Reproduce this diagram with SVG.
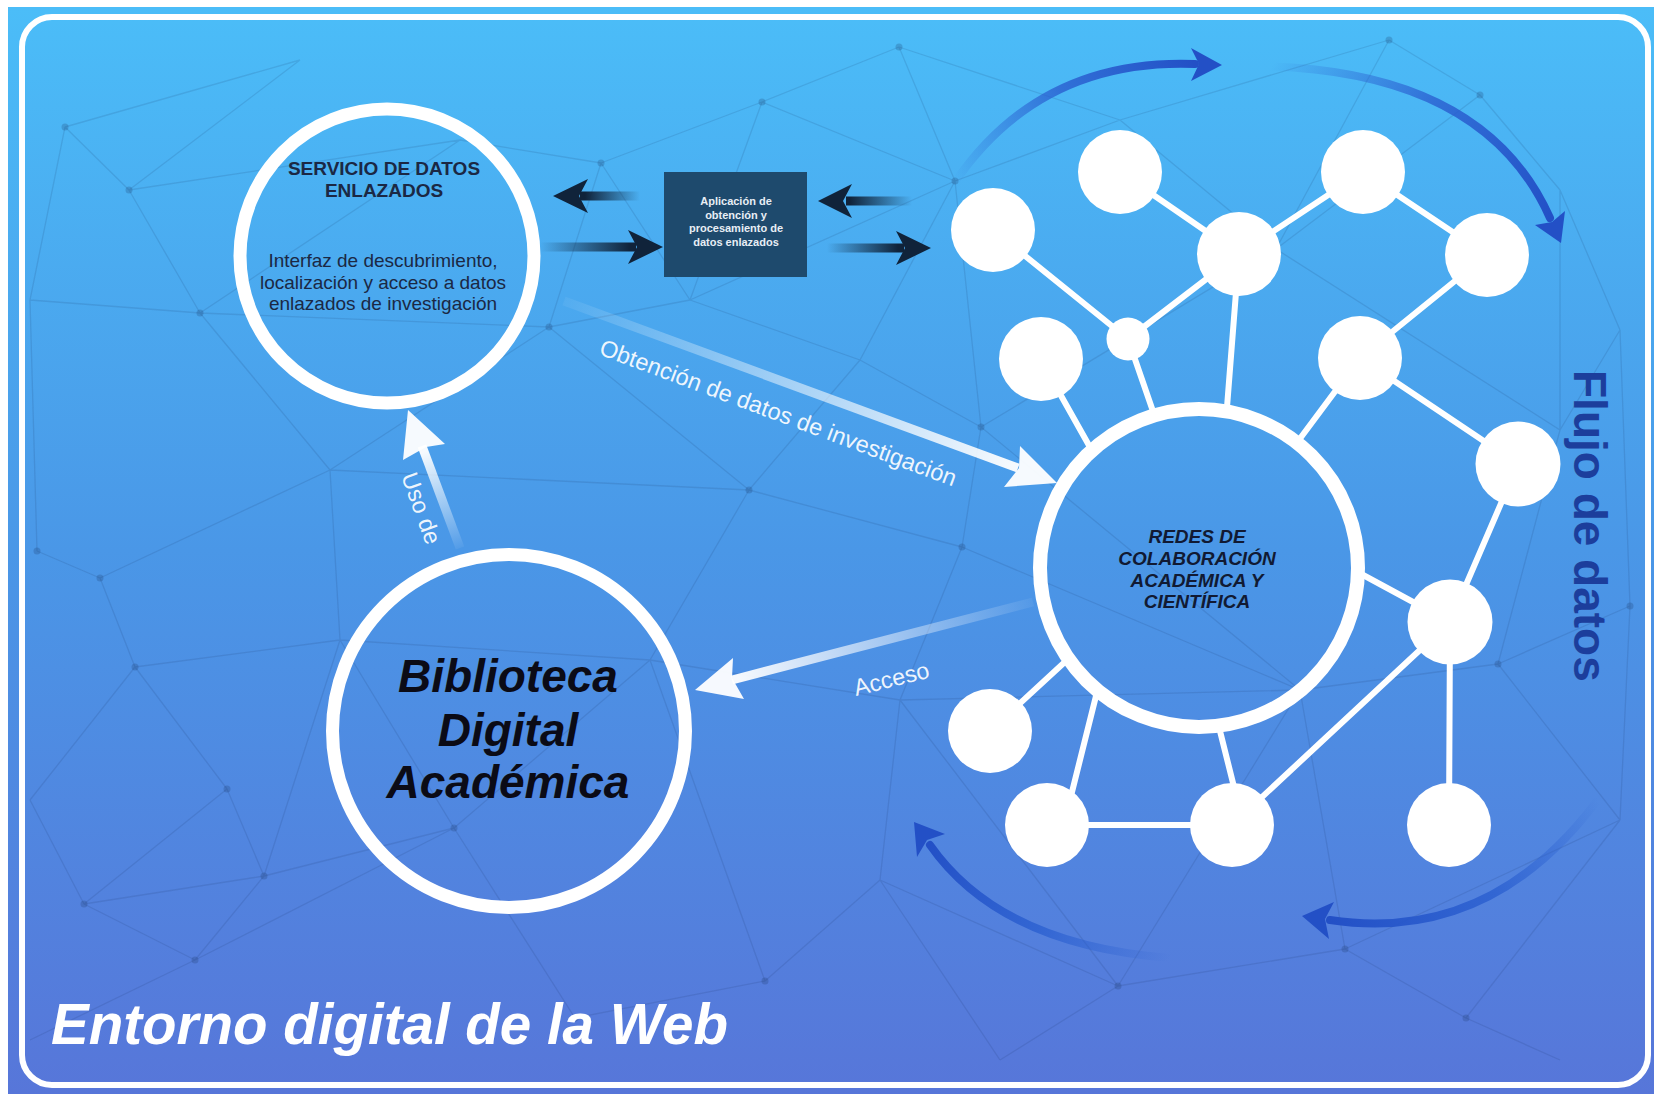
<svg xmlns="http://www.w3.org/2000/svg" width="1654" height="1094" viewBox="0 0 1654 1094">
<defs>
  <linearGradient id="bg" x1="0" y1="0" x2="0" y2="1">
    <stop offset="0" stop-color="#4bbdf8"/>
    <stop offset="0.5" stop-color="#4a97e7"/>
    <stop offset="1" stop-color="#5776d9"/>
  </linearGradient>
  <linearGradient id="gObt" gradientUnits="userSpaceOnUse" x1="564" y1="301" x2="1012" y2="466">
    <stop offset="0" stop-color="#fff" stop-opacity="0.05"/>
    <stop offset="1" stop-color="#fff" stop-opacity="0.95"/>
  </linearGradient>
  <linearGradient id="gAcc" gradientUnits="userSpaceOnUse" x1="1033" y1="602" x2="738" y2="679">
    <stop offset="0" stop-color="#fff" stop-opacity="0.05"/>
    <stop offset="1" stop-color="#fff" stop-opacity="0.95"/>
  </linearGradient>
  <linearGradient id="gUso" gradientUnits="userSpaceOnUse" x1="460" y1="548" x2="424" y2="452">
    <stop offset="0" stop-color="#fff" stop-opacity="0.05"/>
    <stop offset="1" stop-color="#fff" stop-opacity="0.95"/>
  </linearGradient>
  <linearGradient id="gD1" gradientUnits="userSpaceOnUse" x1="640" y1="0" x2="585" y2="0">
    <stop offset="0" stop-color="#10233a" stop-opacity="0"/>
    <stop offset="1" stop-color="#10233a"/>
  </linearGradient>
  <linearGradient id="gD2" gradientUnits="userSpaceOnUse" x1="540" y1="0" x2="630" y2="0">
    <stop offset="0" stop-color="#10233a" stop-opacity="0"/>
    <stop offset="1" stop-color="#10233a"/>
  </linearGradient>
  <linearGradient id="gD3" gradientUnits="userSpaceOnUse" x1="912" y1="0" x2="850" y2="0">
    <stop offset="0" stop-color="#10233a" stop-opacity="0"/>
    <stop offset="1" stop-color="#10233a"/>
  </linearGradient>
  <linearGradient id="gD4" gradientUnits="userSpaceOnUse" x1="827" y1="0" x2="898" y2="0">
    <stop offset="0" stop-color="#10233a" stop-opacity="0"/>
    <stop offset="1" stop-color="#10233a"/>
  </linearGradient>
  <linearGradient id="gC1" gradientUnits="userSpaceOnUse" x1="955" y1="182" x2="1195" y2="64">
    <stop offset="0" stop-color="#2a5fd0" stop-opacity="0"/>
    <stop offset="0.5" stop-color="#2a5fd0" stop-opacity="0.8"/>
    <stop offset="1" stop-color="#2350c6"/>
  </linearGradient>
  <linearGradient id="gC2" gradientUnits="userSpaceOnUse" x1="1272" y1="66" x2="1550" y2="218">
    <stop offset="0" stop-color="#2a5fd0" stop-opacity="0"/>
    <stop offset="0.5" stop-color="#2a5fd0" stop-opacity="0.8"/>
    <stop offset="1" stop-color="#2350c6"/>
  </linearGradient>
  <linearGradient id="gC3" gradientUnits="userSpaceOnUse" x1="1170" y1="958" x2="930" y2="845">
    <stop offset="0" stop-color="#2a5fd0" stop-opacity="0"/>
    <stop offset="0.5" stop-color="#2a5fd0" stop-opacity="0.8"/>
    <stop offset="1" stop-color="#2350c6"/>
  </linearGradient>
  <linearGradient id="gC4" gradientUnits="userSpaceOnUse" x1="1598" y1="800" x2="1330" y2="920">
    <stop offset="0" stop-color="#2a5fd0" stop-opacity="0"/>
    <stop offset="0.45" stop-color="#2a5fd0" stop-opacity="0.8"/>
    <stop offset="1" stop-color="#2350c6"/>
  </linearGradient>
  <mask id="ringMask">
    <rect width="1654" height="1094" fill="#fff"/>
    <circle cx="1199" cy="568" r="153" fill="#000"/>
  </mask>
</defs>
<style>
  .sans{font-family:"Liberation Sans",Arial,sans-serif}
  .ring{fill:none;stroke:#fff}
  .node{fill:#fff}
  .edge{stroke:#fff;stroke-width:6;stroke-linecap:round}
  .mesh{stroke:#17325f;stroke-opacity:.13;stroke-width:1.3;fill:none}
  .dot{fill:#17325f;fill-opacity:.22}
  .dark{fill:#10233a}
  .curve{fill:none;stroke-width:8;stroke-linecap:round}
  .wlab{fill:#fff;fill-opacity:.92;font-size:23.5px}
</style>

<rect width="1654" height="1094" fill="#fff"/>
<rect x="8" y="7" width="1646" height="1087" fill="url(#bg)"/>

<g id="background-mesh">
  <path class="mesh" d="M65 127L129 190M65 127L300 60M65 127L30 300M129 190L200 313M129 190L300 60M129 190L460 140M200 313L30 300M200 313L330 470M200 313L549 327M200 313L460 140M37 551L100 578M37 551L30 300M100 578L135 667M100 578L330 470M135 667L340 640M135 667L227 789M135 667L30 800M227 789L264 876M227 789L84 904M84 904L264 876M84 904L30 800M84 904L195 960M264 876L195 960M264 876L454 828M264 876L340 640M601 163L762 102M601 163L460 140M601 163L549 327M601 163L690 300M762 102L899 47M762 102L690 300M762 102L955 181M899 47L955 181M899 47L1120 120M955 181L1120 120M955 181L860 360M955 181L981 427M955 181L690 300M1389 40L1480 95M1389 40L1120 120M1389 40L1276 249M1480 95L1560 190M1480 95L1276 249M1276 249L1120 120M1276 249L981 427M1276 249L1560 430M549 327L690 300M549 327L330 470M549 327L749 490M981 427L860 360M981 427L962 547M981 427L1300 690M962 547L749 490M962 547L900 700M962 547L1300 690M749 490L860 360M749 490L650 660M749 490L330 470M454 828L340 640M454 828L650 660M454 828L575 1018M575 1018L765 981M765 981L880 880M765 981L650 660M1118 986L880 880M1118 986L1000 1060M1118 986L1345 949M1118 986L900 700M1345 949L1466 1018M1345 949L1300 690M1345 949L1620 820M1466 1018L1560 1060M1466 1018L1620 820M1498 664L1630 606M1498 664L1300 690M1498 664L1560 430M1498 664L1620 820M1630 606L1620 330M1630 606L1620 820M1620 330L1560 190M1620 330L1560 430M1560 430L1560 190M900 700L650 660M900 700L880 880M900 700L1300 690M330 470L340 640M340 640L650 660M690 300L860 360M195 960L30 1040M454 828L195 960M880 880L1000 1060M1300 690L1118 986"/>
  <g class="dot">
    <circle cx="65" cy="127" r="3.5"/><circle cx="129" cy="190" r="3.5"/><circle cx="200" cy="313" r="3.5"/>
    <circle cx="37" cy="551" r="3.5"/><circle cx="100" cy="578" r="3.5"/><circle cx="135" cy="667" r="3.5"/>
    <circle cx="227" cy="789" r="3.5"/><circle cx="84" cy="904" r="3.5"/><circle cx="264" cy="876" r="3.5"/>
    <circle cx="195" cy="960" r="3.5"/><circle cx="601" cy="163" r="3.5"/><circle cx="762" cy="102" r="3.5"/>
    <circle cx="899" cy="47" r="3.5"/><circle cx="955" cy="181" r="3.5"/><circle cx="1389" cy="40" r="3.5"/>
    <circle cx="1480" cy="95" r="3.5"/><circle cx="1276" cy="249" r="3.5"/><circle cx="549" cy="327" r="3.5"/>
    <circle cx="981" cy="427" r="3.5"/><circle cx="962" cy="547" r="3.5"/><circle cx="749" cy="490" r="3.5"/>
    <circle cx="454" cy="828" r="3.5"/><circle cx="575" cy="1018" r="3.5"/><circle cx="765" cy="981" r="3.5"/>
    <circle cx="1118" cy="986" r="3.5"/><circle cx="1345" cy="949" r="3.5"/><circle cx="1466" cy="1018" r="3.5"/>
    <circle cx="1498" cy="664" r="3.5"/><circle cx="1630" cy="606" r="3.5"/>
  </g>
</g>

<rect id="frame" x="22" y="17" width="1626" height="1068" rx="30" fill="none" stroke="#fff" stroke-width="6"/>

<g id="connectors">
  <g id="dark-arrows">
    <line x1="640" y1="196" x2="580" y2="196" stroke="url(#gD1)" stroke-width="9"/>
    <polygon class="dark" points="553,196 588,179 579,196 588,213"/>
    <line x1="540" y1="247" x2="636" y2="247" stroke="url(#gD2)" stroke-width="9"/>
    <polygon class="dark" points="663,247 628,230 637,247 628,264"/>
    <line x1="912" y1="201" x2="846" y2="201" stroke="url(#gD3)" stroke-width="9"/>
    <polygon class="dark" points="818,201 852,184 843,201 852,218"/>
    <line x1="827" y1="248" x2="904" y2="248" stroke="url(#gD4)" stroke-width="9"/>
    <polygon class="dark" points="931,248 896,231 905,248 896,265"/>
  </g>
  <g id="arrow-obtencion">
    <line x1="564" y1="301" x2="1018" y2="468" stroke="url(#gObt)" stroke-width="9"/>
    <polygon fill="#fff" fill-opacity="0.95" points="1057,483 1004,487 1019,468 1020,446"/>
  </g>
  <g id="arrow-acceso">
    <line x1="1033" y1="602" x2="732" y2="680" stroke="url(#gAcc)" stroke-width="9"/>
    <polygon fill="#fff" fill-opacity="0.95" points="695,690 744,699 732,678 733,658"/>
  </g>
  <g id="arrow-uso">
    <line x1="460" y1="548" x2="422" y2="446" stroke="url(#gUso)" stroke-width="9"/>
    <polygon fill="#fff" fill-opacity="0.95" points="408,410 445,444 426,447 403,460"/>
  </g>
  <g id="flow-arrows">
    <path class="curve" stroke="url(#gC1)" d="M955 182Q1040 58 1195 64"/>
    <polygon fill="#2350c6" points="1222,65 1191,48 1199,64 1191,81"/>
    <path class="curve" stroke="url(#gC2)" d="M1265 66Q1485 72 1550 218"/>
    <polygon fill="#2350c6" points="1561,243 1565,211 1552,222 1535,225"/>
    <path class="curve" stroke="url(#gC3)" d="M1170 958Q1000 945 930 845"/>
    <polygon fill="#2350c6" points="914,822 945,834 927,840 917,857"/>
    <path class="curve" stroke="url(#gC4)" d="M1605 790Q1495 945 1330 920"/>
    <polygon fill="#2350c6" points="1302,916 1334,902 1325,919 1329,939"/>
  </g>
  <g id="network-edges" mask="url(#ringMask)">
    <line class="edge" x1="993" y1="230" x2="1128" y2="339"/>
    <line class="edge" x1="1120" y1="172" x2="1239" y2="254"/>
    <line class="edge" x1="1239" y1="254" x2="1128" y2="339"/>
    <line class="edge" x1="1239" y1="254" x2="1363" y2="172"/>
    <line class="edge" x1="1363" y1="172" x2="1487" y2="255"/>
    <line class="edge" x1="1487" y1="255" x2="1360" y2="358"/>
    <line class="edge" x1="1360" y1="358" x2="1518" y2="464"/>
    <line class="edge" x1="1518" y1="464" x2="1450" y2="622"/>
    <line class="edge" x1="1450" y1="622" x2="1449" y2="825"/>
    <line class="edge" x1="1232" y1="825" x2="1450" y2="622"/>
    <line class="edge" x1="1047" y1="825" x2="1232" y2="825"/>
    <line class="edge" x1="1239" y1="254" x2="1226" y2="420"/>
    <line class="edge" x1="1128" y1="339" x2="1156" y2="420"/>
    <line class="edge" x1="1041" y1="360" x2="1100" y2="465"/>
    <line class="edge" x1="1360" y1="358" x2="1290" y2="452"/>
    <line class="edge" x1="1352" y1="569" x2="1450" y2="622"/>
    <line class="edge" x1="990" y1="731" x2="1080" y2="648"/>
    <line class="edge" x1="1070" y1="800" x2="1100" y2="680"/>
    <line class="edge" x1="1216" y1="715" x2="1236" y2="795"/>
  </g>
</g>

<g id="network-nodes" class="node">
  <circle cx="993" cy="230" r="42"/>
  <circle cx="1120" cy="172" r="42"/>
  <circle cx="1239" cy="254" r="42"/>
  <circle cx="1363" cy="172" r="42"/>
  <circle cx="1487" cy="255" r="42"/>
  <circle cx="1041" cy="359" r="42"/>
  <circle cx="1128" cy="339" r="21.5"/>
  <circle cx="1360" cy="358" r="42"/>
  <circle cx="1518" cy="464" r="42.5"/>
  <circle cx="1450" cy="622" r="42.5"/>
  <circle cx="990" cy="731" r="42"/>
  <circle cx="1047" cy="825" r="42"/>
  <circle cx="1232" cy="825" r="42"/>
  <circle cx="1449" cy="825" r="42"/>
</g>

<g id="node-servicio">
  <circle class="ring" cx="387" cy="256" r="147" stroke-width="13"/>
  <g class="sans" font-size="19" fill="#1b2844" text-anchor="middle">
    <text x="384" y="175" font-weight="bold">SERVICIO DE DATOS</text>
    <text x="384" y="197" font-weight="bold">ENLAZADOS</text>
    <text x="383" y="267">Interfaz de descubrimiento,</text>
    <text x="383" y="288.5">localización y acceso a datos</text>
    <text x="383" y="310">enlazados de investigación</text>
  </g>
</g>

<g id="node-aplicacion">
  <rect x="664" y="172" width="143" height="105" fill="#1e4a6d"/>
  <g class="sans" font-size="11" font-weight="bold" fill="#e8eef5" text-anchor="middle">
    <text x="736" y="205">Aplicación de</text>
    <text x="736" y="218.5">obtención y</text>
    <text x="736" y="232">procesamiento de</text>
    <text x="736" y="245.5">datos enlazados</text>
  </g>
</g>

<g id="node-biblioteca">
  <circle class="ring" cx="509" cy="731" r="176.5" stroke-width="13"/>
  <g class="sans" font-size="46" font-weight="bold" font-style="italic" fill="#0b0b16" text-anchor="middle">
    <text x="508" y="692">Biblioteca</text>
    <text x="508" y="746">Digital</text>
    <text x="508" y="798">Académica</text>
  </g>
</g>

<g id="node-redes">
  <circle class="ring" cx="1199" cy="568" r="159" stroke-width="14"/>
  <g class="sans" font-size="19" font-weight="bold" font-style="italic" fill="#111a33" text-anchor="middle">
    <text x="1197" y="543">REDES DE</text>
    <text x="1197" y="565">COLABORACIÓN</text>
    <text x="1197" y="587">ACADÉMICA Y</text>
    <text x="1197" y="608">CIENTÍFICA</text>
  </g>
</g>

<g id="labels" class="sans">
  <text class="wlab" transform="translate(598,354) rotate(20.5)">Obtención de datos de investigación</text>
  <text class="wlab" transform="translate(856,696) rotate(-14)">Acceso</text>
  <text class="wlab" transform="translate(401,476) rotate(70)">Uso de</text>
  <text transform="translate(1574,370) rotate(90)" font-size="46" font-weight="bold" fill="#1c3e9c">Flujo de datos</text>
  <text x="51" y="1044" font-size="56.5" font-weight="bold" font-style="italic" fill="#fff">Entorno digital de la Web</text>
</g>
</svg>
